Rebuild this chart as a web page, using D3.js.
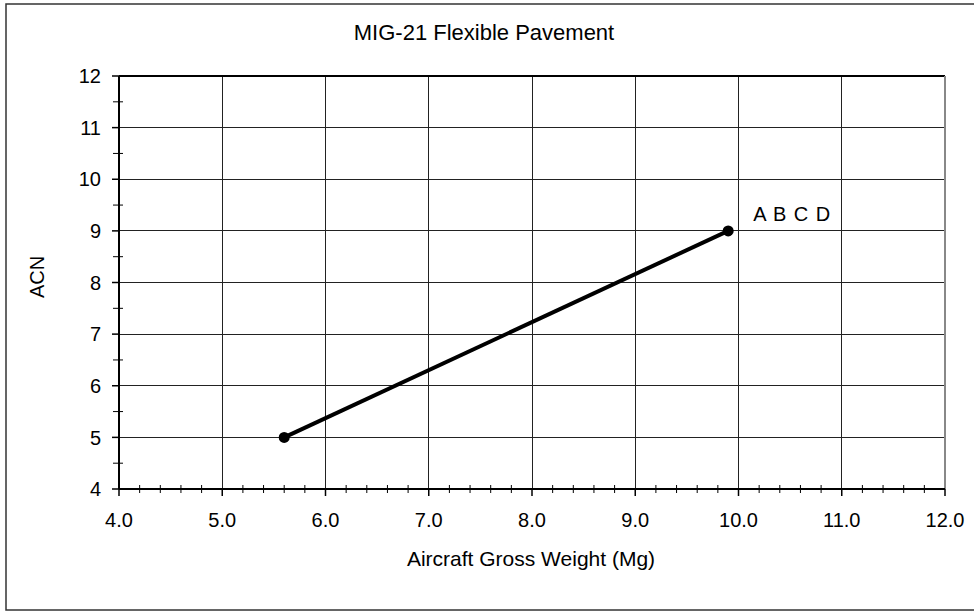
<!DOCTYPE html>
<html><head><meta charset="utf-8">
<script src="https://cdn.jsdelivr.net/npm/d3@7"></script>
<style>body{margin:0;background:#fff}svg{display:block}text{font-family:"Liberation Sans",Arial,sans-serif;fill:#000}</style>
</head><body>
<svg id="c" width="974" height="611"></svg>
<script>
const weights = [5.6, 9.9];
const acn = [5.0, 9.0];
const xTicks = [4, 5, 6, 7, 8, 9, 10, 11, 12];
const yTicks = [4, 5, 6, 7, 8, 9, 10, 11, 12];
const title = "MIG-21 Flexible Pavement";
const xLabel = "Aircraft Gross Weight (Mg)";
const yLabel = "ACN";
const lineLabel = "A B C D";

const svg = d3.select("#c");
const m = {l:119, r:945, t:76, b:489};
const x = d3.scaleLinear().domain([4,12]).range([m.l, m.r]);
const y = d3.scaleLinear().domain([4,12]).range([m.b, m.t]);

svg.append("rect").attr("x",6).attr("y",4).attr("width",1000).attr("height",606)
  .attr("fill","none").attr("stroke","#333").attr("stroke-width",1.5);

// grid
const g = svg.append("g");
g.selectAll(".vg").data(xTicks.slice(1)).join("line")
  .attr("x1",d=>x(d)).attr("x2",d=>x(d)).attr("y1",m.t).attr("y2",m.b)
  .attr("stroke","#222").attr("stroke-width",1).attr("shape-rendering","crispEdges");
g.selectAll(".hg").data(yTicks.slice(1)).join("line")
  .attr("x1",m.l).attr("x2",m.r).attr("y1",d=>y(d)).attr("y2",d=>y(d))
  .attr("stroke","#222").attr("stroke-width",1).attr("shape-rendering","crispEdges");
svg.append("line").attr("x1",m.l).attr("x2",m.r).attr("y1",m.t).attr("y2",m.t).attr("stroke","#000").attr("stroke-width",2);
svg.append("line").attr("x1",m.r).attr("x2",m.r).attr("y1",m.t).attr("y2",m.b).attr("stroke","#888").attr("stroke-width",2);

// axes
const xMinor = d3.range(4.2, 12, 0.2).filter(v => Math.abs(v - Math.round(v)) > 1e-6);
const yMinor = d3.range(4.5, 12, 1);
const ax = svg.append("g");
ax.append("line").attr("x1",m.l).attr("x2",m.r).attr("y1",m.b).attr("y2",m.b).attr("stroke","#000").attr("stroke-width",2);
ax.append("line").attr("x1",m.l).attr("x2",m.l).attr("y1",m.t).attr("y2",m.b).attr("stroke","#000").attr("stroke-width",2);
ax.selectAll(".xt").data(xTicks).join("line").attr("x1",d=>x(d)).attr("x2",d=>x(d)).attr("y1",m.b).attr("y2",m.b+7).attr("stroke","#000").attr("stroke-width",1.5);
ax.selectAll(".xm").data(xMinor).join("line").attr("x1",d=>x(d)).attr("x2",d=>x(d)).attr("y1",m.b-4).attr("y2",m.b+4).attr("stroke","#000").attr("stroke-width",1);
ax.selectAll(".yt").data(yTicks).join("line").attr("x1",m.l-7).attr("x2",m.l).attr("y1",d=>y(d)).attr("y2",d=>y(d)).attr("stroke","#000").attr("stroke-width",1.5);
ax.selectAll(".ym").data(yMinor).join("line").attr("x1",m.l-6).attr("x2",m.l+4).attr("y1",d=>y(d)).attr("y2",d=>y(d)).attr("stroke","#000").attr("stroke-width",1);
ax.selectAll(".xl").data(xTicks).join("text").attr("x",d=>x(d)).attr("y",527).attr("text-anchor","middle").attr("font-size",20).text(d=>d.toFixed(1));
ax.selectAll(".yl").data(yTicks).join("text").attr("x",101).attr("y",d=>y(d)).attr("dy","0.36em").attr("text-anchor","end").attr("font-size",20).text(d=>d);

svg.append("text").attr("x",484).attr("y",40).attr("text-anchor","middle").attr("font-size",22).text(title);
svg.append("text").attr("x",531).attr("y",566).attr("text-anchor","middle").attr("font-size",21).text(xLabel);
svg.append("text").attr("transform","translate(44,277) rotate(-90)").attr("text-anchor","middle").attr("font-size",20).text(yLabel);

// series
const pts = weights.map((w,i)=>[w, acn[i]]);
svg.append("path").datum(pts).attr("fill","none").attr("stroke","#000").attr("stroke-width",4)
  .attr("d", d3.line().x(d=>x(d[0])).y(d=>y(d[1])));
svg.selectAll(".pt").data(pts).join("circle").attr("cx",d=>x(d[0])).attr("cy",d=>y(d[1])).attr("r",5.5).attr("fill","#000");
svg.append("text").attr("x",x(weights[1])+25).attr("y",y(acn[1])-10).attr("font-size",20).attr("word-spacing",2).text(lineLabel);
</script>
</body></html>
